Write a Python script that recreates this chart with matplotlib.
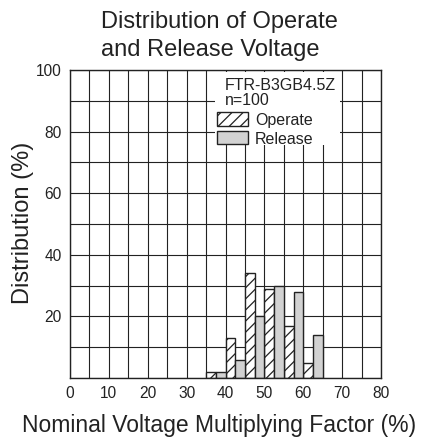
import matplotlib
matplotlib.use("Agg")
import matplotlib.pyplot as plt
from matplotlib.patches import Rectangle
import numpy as np

plt.rcParams['font.family'] = ['Liberation Sans', 'DejaVu Sans']
plt.rcParams['hatch.linewidth'] = 0.9

bin_starts = [35, 40, 45, 50, 55, 60]
operate = [2, 13, 34, 29, 17, 5]
release = [2, 6, 20, 30, 28, 14]
x_ticks = [0, 10, 20, 30, 40, 50, 60, 70, 80]
y_ticks = [20, 40, 60, 80, 100]
model = "FTR-B3GB4.5Z"
n_label = "n=100"
series_names = ["Operate", "Release"]

W, H = 421, 438
fig = plt.figure(figsize=(W / 100, H / 100), dpi=100)
ax = fig.add_axes([70 / W, 1 - 378 / H, (381 - 70) / W, (378 - 70) / H])

INK = '#222222'
GRAY = '#d2d2d2'
bw = 2.5
xs = np.array(bin_starts, dtype=float)
ax.bar(xs, operate, width=bw, align='edge', facecolor='white', edgecolor=INK,
       hatch='///', linewidth=1.0, zorder=3)
ax.bar(xs + bw, release, width=bw, align='edge', facecolor=GRAY, edgecolor=INK,
       linewidth=1.0, zorder=3)

ax.set_xlim(0, 80)
ax.set_ylim(0, 100)
ax.set_xticks(x_ticks)
ax.set_yticks(y_ticks)
ax.set_xticks(np.arange(0, 81, 5), minor=True)
ax.set_yticks(np.arange(0, 101, 10), minor=True)
ax.grid(which='both', color=INK, linewidth=0.8, zorder=1)
ax.set_axisbelow(True)
ax.tick_params(which='both', length=0, labelsize=11.2, colors=INK, pad=6)
for s in ax.spines.values():
    s.set_linewidth(1.0)
    s.set_color(INK)
    s.set_zorder(4)


def fx(px):
    return (px - 70) / 311


def fy(py):
    return (378 - py) / 308


ax.set_xlabel("Nominal Voltage Multiplying Factor (%)", fontsize=16.5, color=INK)
ax.xaxis.label.set_verticalalignment('baseline')
ax.xaxis.set_label_coords(fx(219), fy(432))
ax.set_ylabel("Distribution (%)", fontsize=17, color=INK)
ax.yaxis.label.set_verticalalignment('center')
ax.yaxis.set_label_coords(fx(23), fy(223))

# legend block (axes fraction coordinates)
ax.add_patch(Rectangle((fx(215), fy(145)), fx(340) - fx(215), fy(72) - fy(145),
                       transform=ax.transAxes, facecolor='white', edgecolor='none', zorder=5))
ax.text(fx(225), fy(89.7), model, transform=ax.transAxes, fontsize=11.5, color=INK,
        ha='left', va='baseline', zorder=6)
ax.text(fx(225), fy(105), n_label, transform=ax.transAxes, fontsize=11.5, color=INK,
        ha='left', va='baseline', zorder=6)
ax.add_patch(Rectangle((fx(217), fy(126)), fx(248) - fx(217), fy(112) - fy(126),
                       transform=ax.transAxes, facecolor='white', edgecolor=INK, hatch='///',
                       linewidth=1.0, zorder=6))
ax.add_patch(Rectangle((fx(217), fy(144)), fx(248) - fx(217), fy(131) - fy(144),
                       transform=ax.transAxes, facecolor=GRAY, edgecolor=INK,
                       linewidth=1.0, zorder=6))
ax.text(fx(255), fy(125), series_names[0], transform=ax.transAxes, fontsize=11.5, color=INK,
        ha='left', va='baseline', zorder=6)
ax.text(fx(255), fy(144), series_names[1], transform=ax.transAxes, fontsize=11.5, color=INK,
        ha='left', va='baseline', zorder=6)

fig.text(101 / W, 1 - 28.3 / H, "Distribution of Operate", ha='left', va='baseline',
         fontsize=17, color=INK)
fig.text(101 / W, 1 - 56 / H, "and Release Voltage", ha='left', va='baseline',
         fontsize=17, color=INK)

fig.savefig("out.png", dpi=100)
